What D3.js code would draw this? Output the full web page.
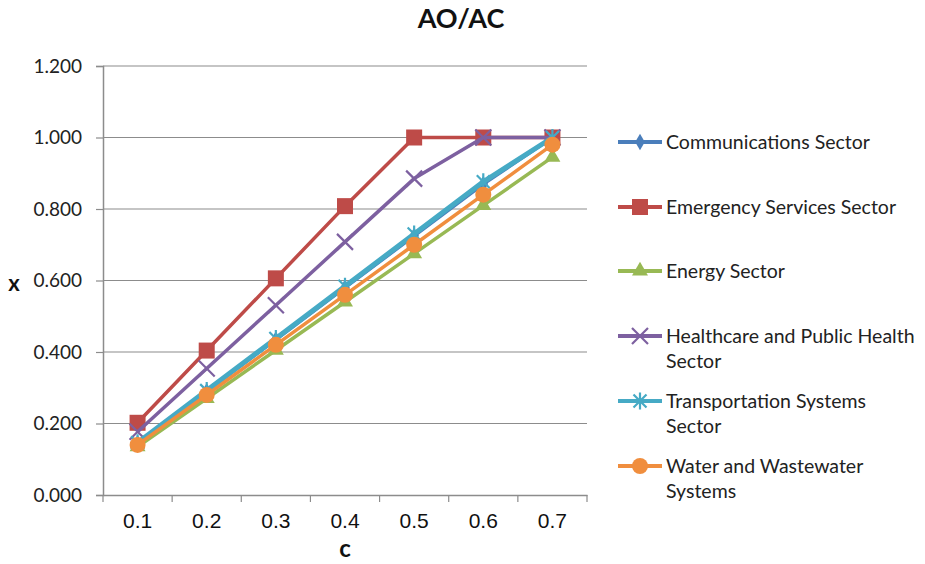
<!DOCTYPE html>
<html>
<head>
<meta charset="utf-8">
<script src="https://cdn.jsdelivr.net/npm/d3@7"></script>
<style>
  body { margin: 0; background: #fff; }
  svg { display: block; }
</style>
</head>
<body>
<svg id="chart" width="925" height="564"></svg>
<script>
// Category axis (c) and y tick values
const categories = ["0.1", "0.2", "0.3", "0.4", "0.5", "0.6", "0.7"];
const yTicks = [0, 0.2, 0.4, 0.6, 0.8, 1.0, 1.2];

// Series values, one per sector
const communications = [0.145, 0.290, 0.435, 0.580, 0.725, 0.870, 1.000];
const emergency      = [0.202, 0.404, 0.606, 0.808, 1.000, 1.000, 1.000];
const energy         = [0.135, 0.270, 0.405, 0.540, 0.675, 0.810, 0.945];
const healthcare     = [0.177, 0.354, 0.531, 0.708, 0.885, 1.000, 1.000];
const transportation = [0.146, 0.292, 0.438, 0.584, 0.730, 0.876, 1.000];
const water          = [0.140, 0.280, 0.420, 0.560, 0.700, 0.840, 0.980];

const seriesNames = [
  ["Communications Sector"],
  ["Emergency Services Sector"],
  ["Energy Sector"],
  ["Healthcare and Public Health", "Sector"],
  ["Transportation Systems", "Sector"],
  ["Water and Wastewater", "Systems"]
];
const seriesValues = [communications, emergency, energy, healthcare, transportation, water];
const seriesColors = ["#4a7ebb", "#be4b48", "#98b954", "#7d60a0", "#46aac5", "#f08e3e"];
const seriesMarkers = ["diamond", "square", "triangle", "x", "star", "circle"];
const seriesWidths = [3.5, 3.5, 3.5, 3.5, 5, 3.5];

const svg = d3.select("#chart");
const margin = { left: 103, right: 587, top: 66, bottom: 495 };

const x = d3.scaleBand().domain(categories).range([margin.left, margin.right]);
const y = d3.scaleLinear().domain([0, 1.2]).range([margin.bottom, margin.top]);

const gridColor = "#8c8c8c";
const uiFont = "Lato, 'Open Sans', sans-serif";

// Horizontal gridlines
svg.append("g")
  .selectAll("line")
  .data(yTicks.filter(d => d > 0))
  .join("line")
  .attr("x1", margin.left).attr("x2", margin.right)
  .attr("y1", d => y(d)).attr("y2", d => y(d))
  .attr("stroke", gridColor).attr("stroke-width", 1.2);

// Y axis
const yAxis = svg.append("g")
  .attr("transform", `translate(${margin.left},0)`)
  .call(d3.axisLeft(y).tickValues(yTicks).tickFormat(d3.format(".3f")).tickSize(7).tickPadding(14));
yAxis.select(".domain").attr("stroke", gridColor).attr("stroke-width", 1.5);
yAxis.selectAll(".tick line").attr("stroke", gridColor).attr("stroke-width", 1.2);
yAxis.selectAll(".tick text")
  .attr("fill", "#222")
  .style("font-family", uiFont)
  .style("font-size", "19px");

// X axis with tick marks on band boundaries
const xAxis = svg.append("g")
  .attr("transform", `translate(0,${margin.bottom})`)
  .call(d3.axisBottom(x).tickSize(0).tickPadding(18));
xAxis.select(".domain").attr("stroke", gridColor).attr("stroke-width", 1.5);
xAxis.selectAll(".tick text")
  .attr("fill", "#111")
  .style("font-family", "'Liberation Sans', Arial, sans-serif")
  .style("font-size", "21px");
const boundaries = categories.map(c => x(c)).concat([x(categories[categories.length - 1]) + x.bandwidth()]);
xAxis.append("g")
  .selectAll("line")
  .data(boundaries)
  .join("line")
  .attr("x1", d => d).attr("x2", d => d)
  .attr("y1", 0).attr("y2", 7)
  .attr("stroke", gridColor).attr("stroke-width", 1.2);

// Titles
svg.append("text")
  .attr("x", 461).attr("y", 28)
  .attr("text-anchor", "middle")
  .style("font-family", uiFont)
  .style("font-weight", "bold").style("font-size", "27px")
  .attr("fill", "#111")
  .text("AO/AC");
svg.append("text")
  .attr("x", 14).attr("y", 291)
  .attr("text-anchor", "middle")
  .style("font-family", uiFont)
  .style("font-weight", "bold").style("font-size", "22px")
  .attr("fill", "#111")
  .text("x");
svg.append("text")
  .attr("x", 345).attr("y", 557)
  .attr("text-anchor", "middle")
  .style("font-family", uiFont)
  .style("font-weight", "bold").style("font-size", "24px")
  .attr("fill", "#111")
  .text("c");

// Marker drawing
function drawMarker(g, type, color) {
  if (type === "diamond") {
    g.append("path").attr("d", d3.symbol(d3.symbolDiamond, 80)()).attr("fill", color);
  } else if (type === "square") {
    g.append("rect").attr("x", -8).attr("y", -8).attr("width", 16).attr("height", 16).attr("fill", color);
  } else if (type === "triangle") {
    g.append("path").attr("d", d3.symbol(d3.symbolTriangle, 110)()).attr("fill", color);
  } else if (type === "circle") {
    g.append("circle").attr("r", 8).attr("fill", color);
  } else if (type === "x") {
    g.append("path").attr("d", "M-8,-8L8,8M-8,8L8,-8").attr("stroke", color).attr("stroke-width", 2.2).attr("fill", "none");
  } else if (type === "star") {
    g.append("path").attr("d", "M-6.5,-6.5L6.5,6.5M-6.5,6.5L6.5,-6.5M0,-8.5L0,8.5").attr("stroke", color).attr("stroke-width", 2.2).attr("fill", "none");
  }
}

const line = d3.line()
  .x((d, i) => x(categories[i]) + x.bandwidth() / 2)
  .y(d => y(d));

// Series lines and markers, drawn in series order
seriesValues.forEach((vals, s) => {
  const g = svg.append("g");
  g.append("path")
    .attr("d", line(vals))
    .attr("fill", "none")
    .attr("stroke", seriesColors[s])
    .attr("stroke-width", seriesWidths[s])
    .attr("stroke-linejoin", "round");
  vals.forEach((v, i) => {
    const m = g.append("g")
      .attr("transform", `translate(${x(categories[i]) + x.bandwidth() / 2},${y(v)})`);
    drawMarker(m, seriesMarkers[s], seriesColors[s]);
  });
});

// Legend
const legendTop = [142, 207, 271, 336, 401, 466];
const legend = svg.append("g");
seriesNames.forEach((lines, s) => {
  const g = legend.append("g").attr("transform", `translate(0,${legendTop[s]})`);
  g.append("line")
    .attr("x1", 618).attr("x2", 662).attr("y1", 0).attr("y2", 0)
    .attr("stroke", seriesColors[s]).attr("stroke-width", 4);
  const m = g.append("g").attr("transform", "translate(640,0)");
  drawMarker(m, seriesMarkers[s], seriesColors[s]);
  lines.forEach((t, k) => {
    g.append("text")
      .attr("x", 666).attr("y", k * 25)
      .attr("dy", "0.35em")
      .style("font-family", uiFont)
      .style("font-size", "19.5px")
      .attr("fill", "#222")
      .text(t);
  });
});
</script>
</body>
</html>
